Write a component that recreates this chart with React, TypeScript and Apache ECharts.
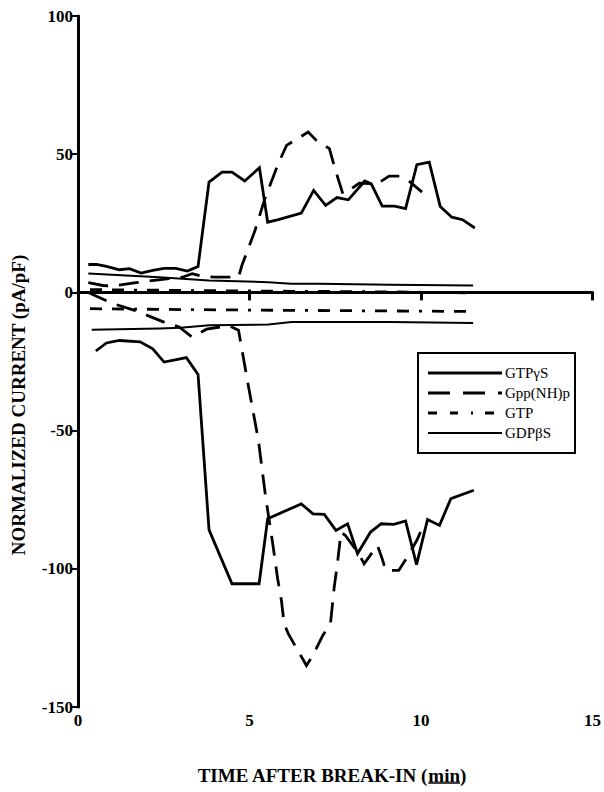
import React, { useEffect, useRef } from "react";
import * as echarts from "echarts";

// ---- data ----
const seriesNames = ["GTPγS", "Gpp(NH)p", "GTP", "GDPβS"];

const gtpgsUpT = [0.3, 0.54, 0.83, 1.21, 1.5, 1.84, 2.18, 2.51, 2.85, 3.19, 3.5, 3.82, 4.2, 4.49, 4.86, 5.29, 5.53, 5.84, 6.51, 6.87, 7.22, 7.55, 7.88, 8.36, 8.55, 8.87, 9.23, 9.55, 9.88, 10.24, 10.56, 10.9, 11.21, 11.57];
const gtpgsUpV = [10.1, 10.1, 9.4, 8.2, 8.6, 7.0, 8.0, 8.7, 8.7, 7.7, 9.4, 39.9, 43.5, 43.5, 40.3, 45.1, 25.4, 26.3, 28.7, 36.9, 31.5, 34.3, 33.5, 40.3, 39.3, 31.2, 31.2, 30.3, 46.2, 47.1, 31.1, 27.2, 26.3, 23.3];

const gtpgsLowT = [0.52, 0.83, 1.21, 1.81, 2.18, 2.51, 3.16, 3.5, 3.82, 4.49, 5.28, 5.53, 6.51, 6.85, 7.18, 7.52, 7.86, 8.15, 8.53, 8.84, 9.21, 9.55, 9.87, 10.19, 10.54, 10.87, 11.54];
const gtpgsLowV = [-21.2, -18.3, -17.4, -17.9, -20.4, -25.2, -23.6, -29.7, -85.9, -105.4, -105.4, -81.9, -76.5, -80.1, -80.3, -86.1, -83.7, -94.5, -86.7, -83.7, -83.9, -82.7, -98.5, -82.2, -84.3, -74.6, -71.6];

const gppUpT = [0.3, 0.73, 1.02, 1.69, 2.03, 2.66, 3.04, 3.33, 3.62, 4.0, 4.68, 4.78, 5.16, 5.45, 5.84, 6.08, 6.47, 6.71, 6.95, 7.33, 7.48, 7.72, 7.86, 8.2, 8.73, 9.07, 9.4, 9.69, 10.03];
const gppUpV = [3.5, 2.5, 2.3, 3.5, 4.1, 5.0, 5.5, 6.8, 5.8, 5.5, 5.5, 9.8, 22.4, 34.0, 46.6, 53.2, 56.2, 58.0, 55.0, 52.0, 45.3, 35.7, 36.6, 39.5, 39.3, 42.1, 42.1, 39.9, 36.3];

const gppLowT = [0.3, 1.01, 1.65, 2.02, 2.57, 2.95, 3.33, 3.75, 4.4, 4.68, 4.97, 5.26, 5.47, 5.69, 5.82, 5.93, 6.01, 6.13, 6.66, 6.85, 7.14, 7.36, 7.47, 7.55, 7.67, 7.8, 8.19, 8.34, 8.73, 8.87, 8.97, 9.35, 9.55, 9.88, 10.03];
const gppLowV = [0.0, -4.0, -6.5, -8.3, -11.1, -12.5, -16.2, -13.3, -12.0, -13.7, -34.0, -53.5, -74.0, -92.0, -103.6, -111.4, -119.9, -123.5, -135.0, -131.3, -124.0, -119.9, -106.6, -99.4, -86.7, -88.0, -94.6, -98.2, -91.5, -96.4, -100.6, -100.6, -96.7, -89.7, -85.4];

const gtpUpT = [0.35, 3.0, 6.22, 9.0, 11.52];
const gtpUpV = [1.0, 0.7, 0.4, 0.2, -0.2];
const gtpLowT = [0.35, 3.0, 6.22, 9.0, 11.52];
const gtpLowV = [-5.9, -6.2, -6.5, -6.7, -6.9];

const gdpUpT = [0.3, 2.37, 3.82, 5.55, 6.22, 7.0, 9.11, 11.52];
const gdpUpV = [6.8, 5.5, 4.3, 3.7, 3.1, 3.1, 2.8, 2.5];
const gdpLowT = [0.4, 2.37, 3.0, 3.82, 5.55, 6.22, 9.11, 11.52];
const gdpLowV = [-13.5, -13.1, -12.8, -11.9, -11.6, -10.7, -10.7, -11.1];

const xTicks = [0, 5, 10, 15];
const yTicks = [-150, -100, -50, 0, 50, 100];

const xTitleMain = "TIME AFTER BREAK-IN (";
const xTitleUnit = "min";
const xTitleEnd = ")";
const yTitle = "NORMALIZED CURRENT (pA/pF)";

const FONT = "'Liberation Serif', 'Times New Roman', serif";

const zip = (t: number[], v: number[]) => t.map((x, i) => [x, v[i]]);

function measure(text: string, font: string): number {
  const c = document.createElement("canvas").getContext("2d");
  if (!c) return text.length * 9;
  c.font = font;
  return c.measureText(text).width;
}

export default function App() {
  const ref = useRef<HTMLDivElement>(null);
  useEffect(() => {
    if (!ref.current) return;
    const chart = echarts.init(ref.current, null, { renderer: "svg" });

    const solid = "solid";
    const gppDash = [20, 11];
    const gtpDash = [12, 10, 12, 10, 3, 10];
    const styles: Record<string, { type: any; width: number; legendType: any }> = {
      "GTPγS": { type: solid, width: 2.8, legendType: solid },
      "Gpp(NH)p": { type: gppDash, width: 2.8, legendType: [22, 13] },
      "GTP": { type: gtpDash, width: 2.8, legendType: [9, 13, 8, 13, 2, 12] },
      "GDPβS": { type: solid, width: 2.0, legendType: solid },
    };

    const mk = (name: string, data: number[][]) => ({
      name,
      type: "line",
      data,
      symbol: "none",
      lineStyle: { color: "#000", width: styles[name].width, type: styles[name].type, join: "miter" },
      itemStyle: { color: "#000" },
      z: 3,
    });

    // titles
    const titleFont = `bold 19px ${FONT}`;
    const wMain = measure(xTitleMain, titleFont);
    const wUnit = measure(xTitleUnit, titleFont);
    const wEnd = measure(xTitleEnd, titleFont);
    const total = wMain + wUnit + wEnd;
    const xCenter = 332;
    const x0 = xCenter - total / 2;
    const titleY = 775;

    // legend (drawn as graphic)
    const lgLeft = 418, lgTop = 353, lgW = 157, lgH = 100;
    const rowsY = [373, 393, 413, 433];
    const legendEls: any[] = [
      {
        type: "rect",
        shape: { x: lgLeft, y: lgTop, width: lgW, height: lgH },
        style: { fill: "#fff", stroke: "#000", lineWidth: 2 },
        z: 10,
      },
    ];
    seriesNames.forEach((n, i) => {
      legendEls.push({
        type: "line",
        shape: { x1: 428, y1: rowsY[i], x2: 502, y2: rowsY[i] },
        style: { stroke: "#000", lineWidth: styles[n].width, lineDash: styles[n].legendType === solid ? null : styles[n].legendType },
        z: 11,
      });
      legendEls.push({
        type: "text",
        x: 505,
        y: rowsY[i],
        style: { text: n, fill: "#000", font: `15px ${FONT}`, textAlign: "left", textVerticalAlign: "middle" },
        z: 11,
      });
    });

    chart.setOption({
      animation: false,
      backgroundColor: "#fff",
      grid: { left: 78, right: 7, top: 16, bottom: 85, containLabel: false },
      xAxis: {
        type: "value",
        min: xTicks[0],
        max: xTicks[xTicks.length - 1],
        interval: 5,
        splitLine: { show: false },
        axisLine: { lineStyle: { color: "#000", width: 3 } },
        axisTick: { show: true, length: 8, inside: false, lineStyle: { color: "#000", width: 3 } },
        axisLabel: { color: "#000", fontFamily: FONT, fontWeight: "bold", fontSize: 17, margin: 5 },
      },
      yAxis: {
        type: "value",
        min: yTicks[0],
        max: yTicks[yTicks.length - 1],
        interval: 50,
        splitLine: { show: false },
        axisLine: { show: true, onZero: false, lineStyle: { color: "#000", width: 3 } },
        axisTick: { show: true, length: 6, inside: false, lineStyle: { color: "#000", width: 2 } },
        axisLabel: { color: "#000", fontFamily: FONT, fontWeight: "bold", fontSize: 17, margin: 5 },
      },
      legend: { show: false },
      graphic: [
        {
          type: "text",
          x: x0,
          y: titleY,
          style: { text: xTitleMain, fill: "#000", font: titleFont, textAlign: "left", textVerticalAlign: "middle" },
        },
        {
          type: "text",
          x: x0 + wMain,
          y: titleY,
          style: { text: xTitleUnit, fill: "#000", font: titleFont, textAlign: "left", textVerticalAlign: "middle" },
        },
        {
          type: "text",
          x: x0 + wMain + wUnit,
          y: titleY,
          style: { text: xTitleEnd, fill: "#000", font: titleFont, textAlign: "left", textVerticalAlign: "middle" },
        },
        {
          type: "line",
          shape: { x1: x0 + wMain, y1: titleY + 8, x2: x0 + wMain + wUnit, y2: titleY + 8 },
          style: { stroke: "#000", lineWidth: 1.5 },
        },
        {
          type: "text",
          x: 18,
          y: 405,
          rotation: Math.PI / 2,
          style: {
            text: yTitle,
            fill: "#000",
            font: titleFont,
            textAlign: "center",
            textVerticalAlign: "middle",
          },
        },
        ...legendEls,
      ],
      series: [
        mk("GTPγS", zip(gtpgsUpT, gtpgsUpV)),
        mk("GTPγS", zip(gtpgsLowT, gtpgsLowV)),
        mk("Gpp(NH)p", zip(gppUpT, gppUpV)),
        mk("Gpp(NH)p", zip(gppLowT, gppLowV)),
        mk("GTP", zip(gtpUpT, gtpUpV)),
        mk("GTP", zip(gtpLowT, gtpLowV)),
        mk("GDPβS", zip(gdpUpT, gdpUpV)),
        mk("GDPβS", zip(gdpLowT, gdpLowV)),
      ],
    });
    return () => chart.dispose();
  }, []);
  return (
    <div
      ref={ref}
      style={{ position: "fixed", left: 0, top: 0, width: 604, height: 792, background: "#fff" }}
    />
  );
}
